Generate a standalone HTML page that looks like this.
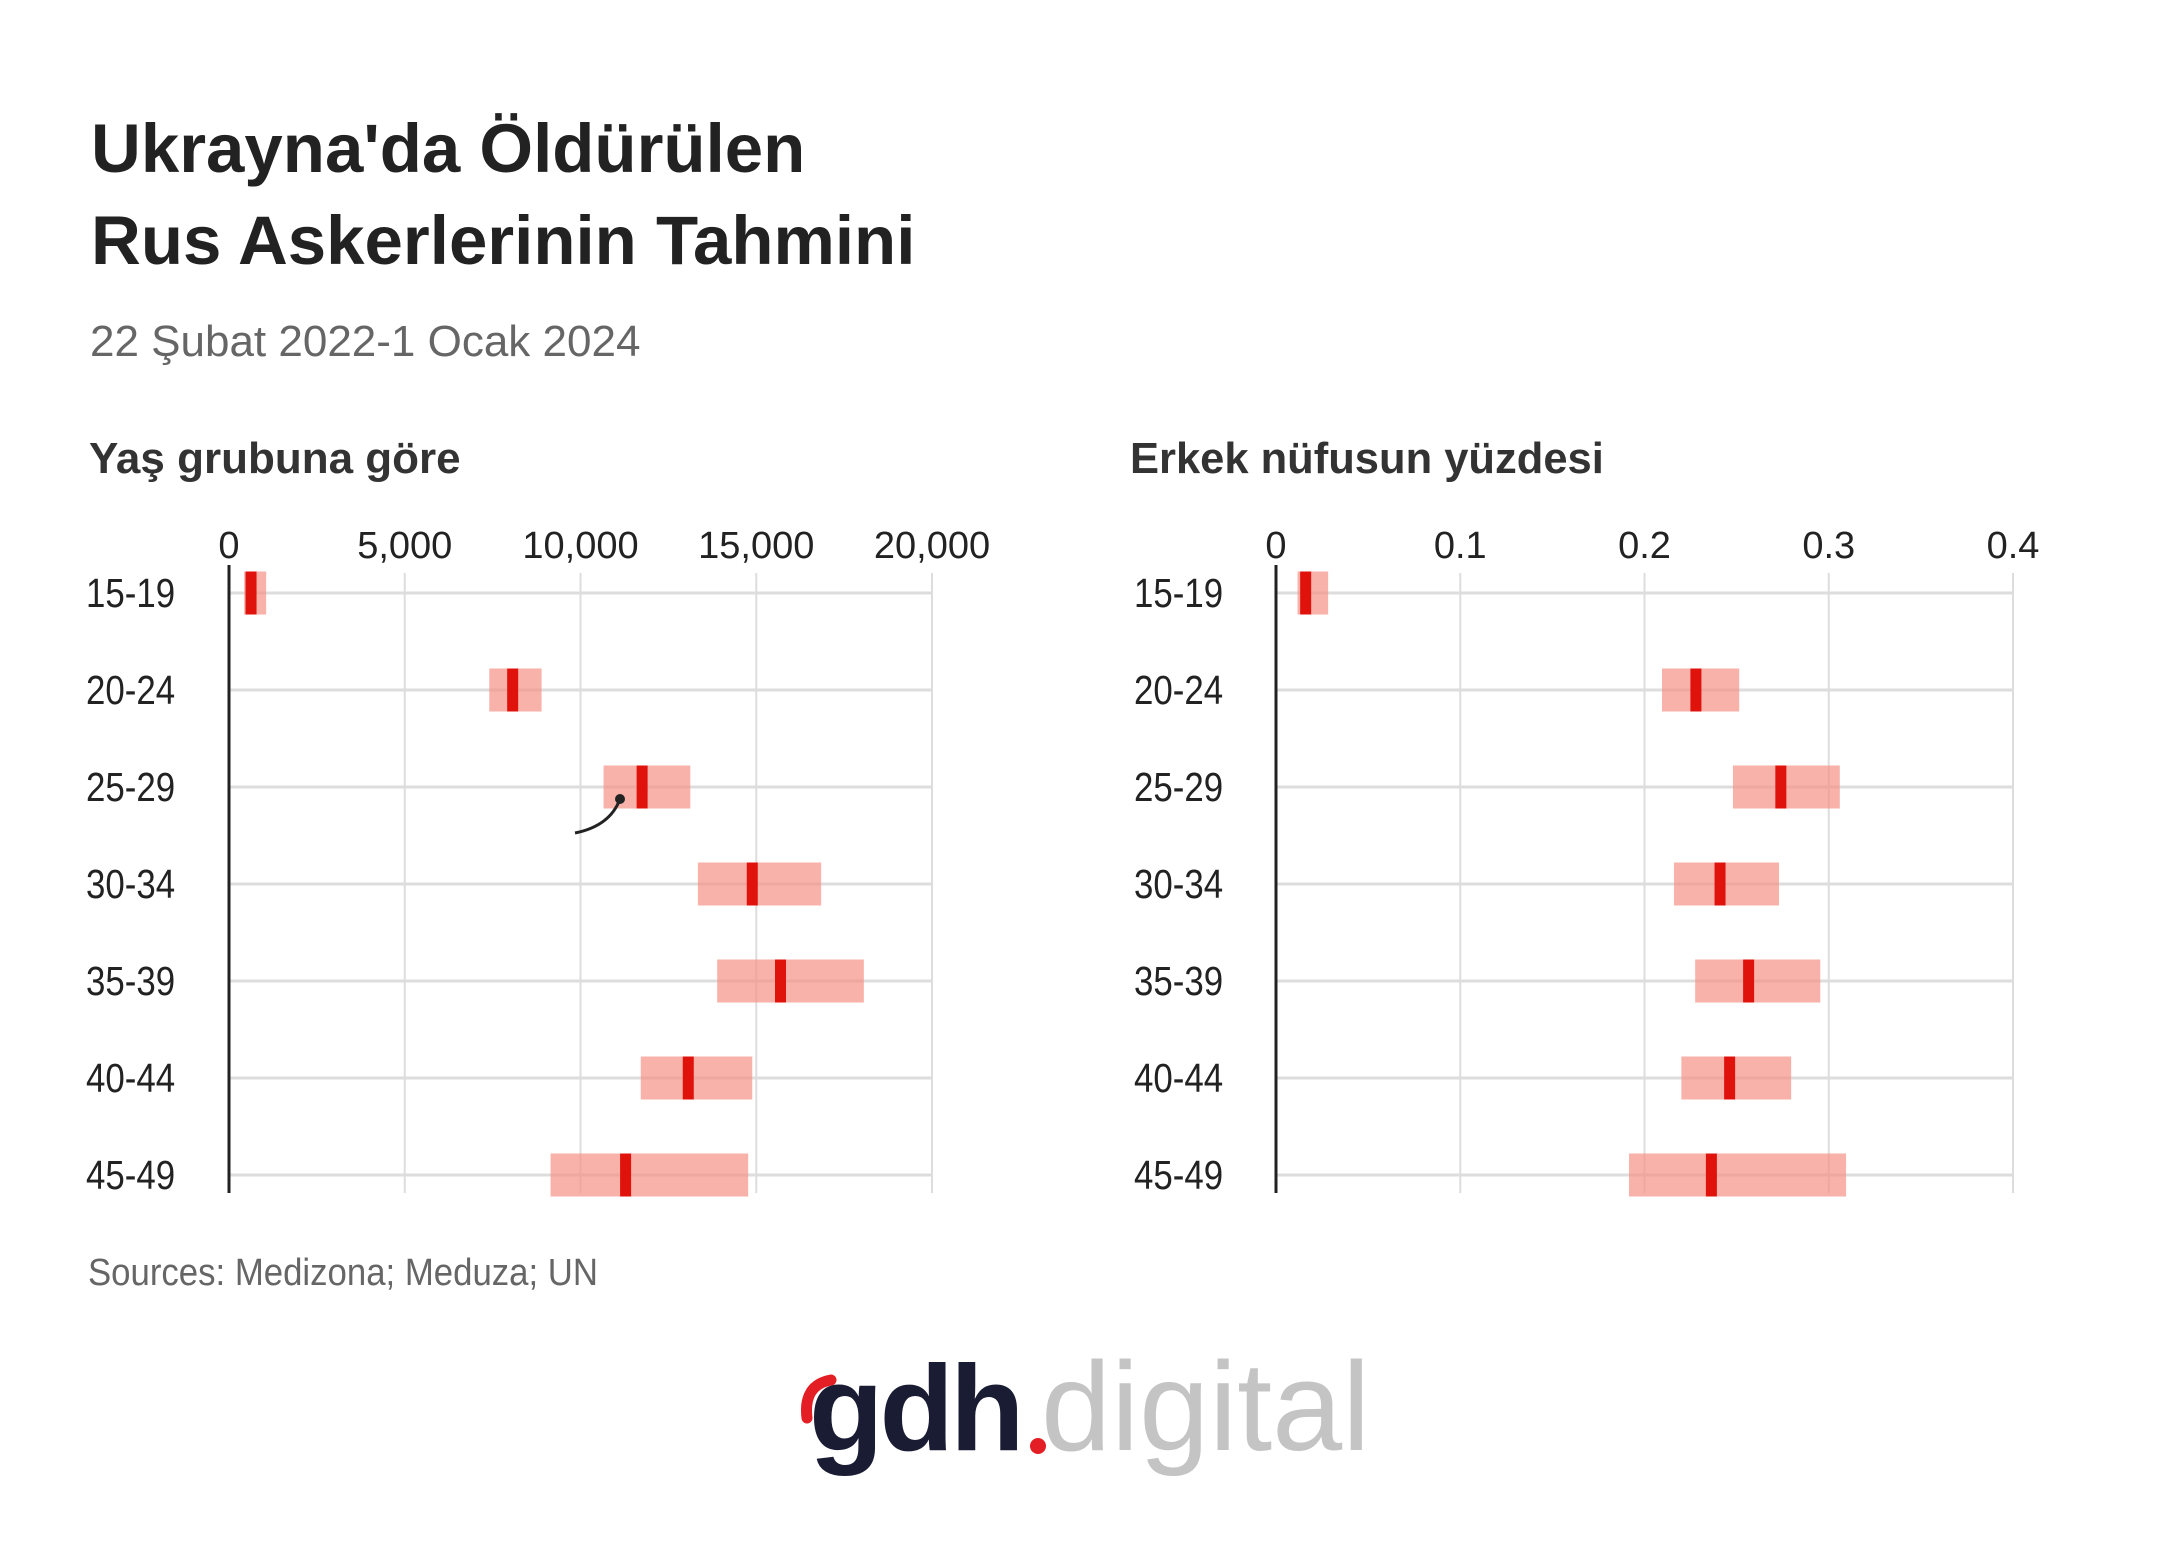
<!DOCTYPE html>
<html><head><meta charset="utf-8"><style>
body{margin:0;background:#fff;}
svg{display:block;}
.t{font-family:"Liberation Sans",sans-serif;}
.n{font-family:"Liberation Sans Narrow","Liberation Sans",sans-serif;}
</style></head><body>
<svg id="c" width="2160" height="1542" viewBox="0 0 2160 1542" xmlns="http://www.w3.org/2000/svg">
<text class="t" x="91" y="172" font-size="69" font-weight="bold" fill="#222">Ukrayna'da Öldürülen</text>
<text class="t" x="91" y="264" font-size="69" font-weight="bold" fill="#222">Rus Askerlerinin Tahmini</text>
<text class="t" x="90" y="356" font-size="44" fill="#666">22 Şubat 2022-1 Ocak 2024</text>
<text class="t" x="89" y="473" font-size="44" font-weight="bold" fill="#333">Yaş grubuna göre</text>
<text class="t" x="1130" y="473" font-size="43.5" font-weight="bold" fill="#333">Erkek nüfusun yüzdesi</text>
<text class="n" x="88" y="1285" font-size="38" fill="#666" textLength="510" lengthAdjust="spacingAndGlyphs">Sources: Medizona; Meduza; UN</text>
<g id="left"></g>
<g id="right"></g>
<path d="M575 833 Q610 826 620 799" fill="none" stroke="#222" stroke-width="3"/>
<circle cx="620" cy="799" r="5" fill="#222"/>
<g transform="translate(-11,0)">
<path d="M818 1418 Q814 1385 842 1380" fill="none" stroke="#e31e24" stroke-width="11" stroke-linecap="round"/>
<text class="t" x="820" y="1450" font-size="122" font-weight="bold" fill="#1a1c33" letter-spacing="-4">gdh</text>
<circle cx="1049" cy="1446" r="8" fill="#e31e24"/>
<text class="t" x="1052" y="1450" font-size="126" fill="#c4c4c4" style="font-weight:300">digital</text>
</g>
</svg>
<script>
const categories=["15-19","20-24","25-29","30-34","35-39","40-44","45-49"];
const ageLow=[431,7405,10656,13340,13889,11714,9148];
const ageMid=[627,8070,11753,14887,15690,13066,11283];
const ageHigh=[1058,8893,13124,16846,18061,14887,14770];
const ageTicks=[0,5000,10000,15000,20000];
const ageTickLabels=["0","5,000","10,000","15,000","20,000"];
const pctLow=[0.0117,0.2095,0.248,0.216,0.2275,0.220,0.1916];
const pctMid=[0.0161,0.2279,0.274,0.241,0.2565,0.2462,0.2363];
const pctHigh=[0.0283,0.2514,0.306,0.273,0.2954,0.2796,0.3094];
const pctTicks=[0,0.1,0.2,0.3,0.4];
const pctTickLabels=["0","0.1","0.2","0.3","0.4"];
const NS="http://www.w3.org/2000/svg";
function mk(p,t,a){const e=document.createElementNS(NS,t);for(const k in a)e.setAttribute(k,a[k]);p.appendChild(e);return e;}
function yRow(i){return 593+i*97.0;}
function draw(gid,x0,x1,max,ticks,labels,lo,mid,hi,labX){
 const g=document.getElementById(gid);
 const sx=v=>x0+v/max*(x1-x0);
 ticks.forEach((t,i)=>{
  const l=mk(g,"line",{x1:sx(t),x2:sx(t),y1:573,y2:1193,stroke:"#ddd","stroke-width":2});
  
  
  const tx=mk(g,"text",{x:sx(t),y:558,"text-anchor":"middle","font-size":38,fill:"#222",class:"n"});
  tx.textContent=labels[i];
  
  
 });
 categories.forEach((c,i)=>{
  const y=yRow(i);
  const gl=mk(g,"line",{x1:x0,x2:x1,y1:y,y2:y,stroke:"#ddd","stroke-width":3});
  
  
  const tx=mk(g,"text",{x:labX,y:y+14,"font-size":41,fill:"#222",class:"n"});
  tx.textContent=c;
  
  
  const w=tx.getComputedTextLength();
  if(w>0){tx.setAttribute("textLength",(w*0.85).toFixed(1));tx.setAttribute("lengthAdjust","spacingAndGlyphs");}
  const r=mk(g,"rect",{x:sx(lo[i]),y:y-21.5,width:sx(hi[i])-sx(lo[i]),height:43,fill:"#f59184","fill-opacity":0.7});
  
  
  const m=mk(g,"rect",{x:sx(mid[i])-5.5,y:y-21.5,width:11,height:43,fill:"#e0120c"});
  
  
 });
 const ax=mk(g,"line",{x1:x0,x2:x0,y1:565,y2:1193,stroke:"#222","stroke-width":3});
 
 
}
draw("left",229,932,20000,ageTicks,ageTickLabels,ageLow,ageMid,ageHigh,86);
draw("right",1276,2013,0.4,pctTicks,pctTickLabels,pctLow,pctMid,pctHigh,1134);
</script>
</body></html>
